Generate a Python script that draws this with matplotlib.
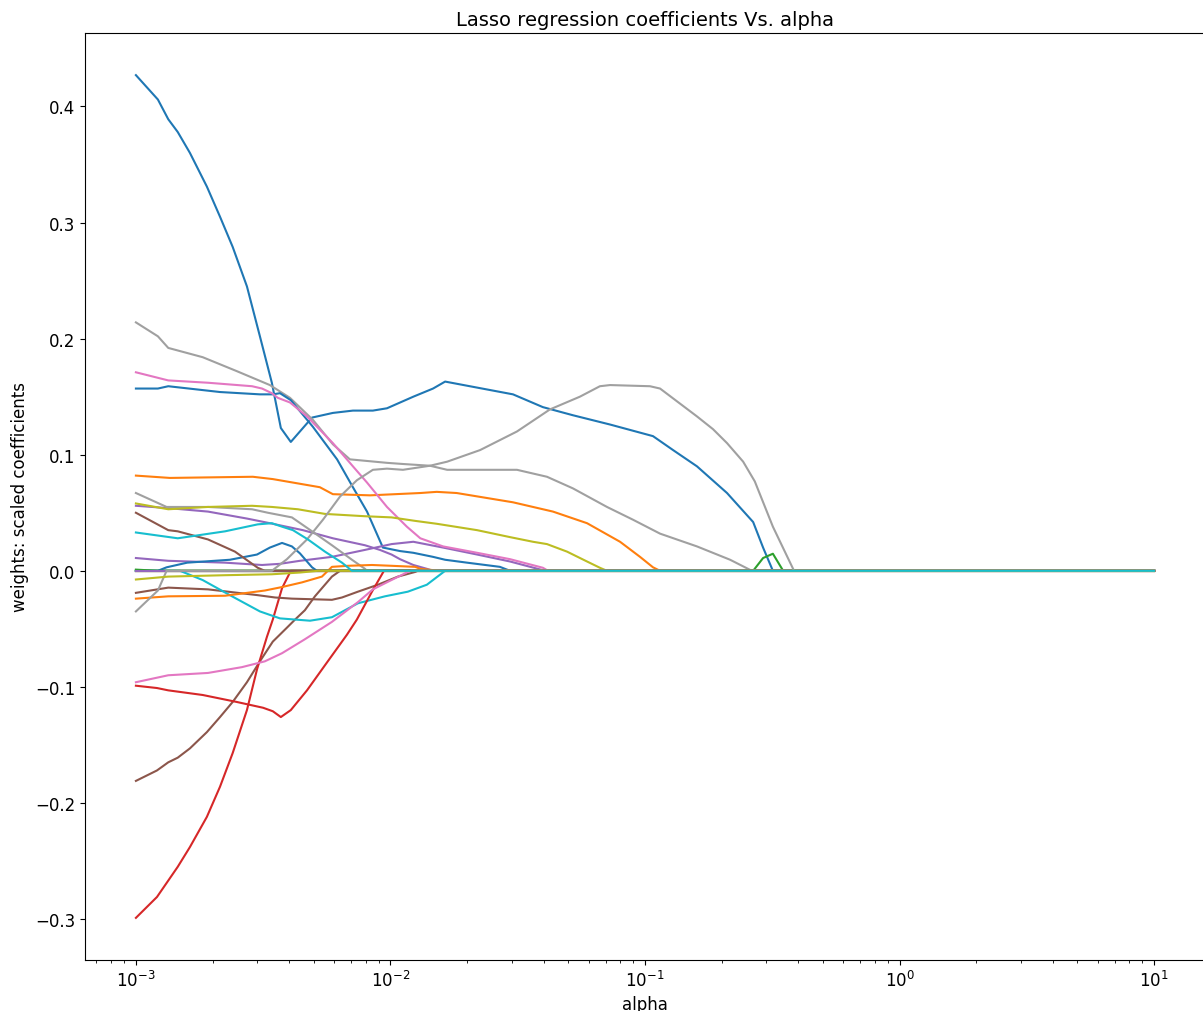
import matplotlib.pyplot as plt
from cycler import cycler

# lasso path: knots (alpha, coefficient); every path ends at 0 for large alpha
blue_a_alpha = [0.001, 0.00122, 0.00134, 0.00146, 0.00163, 0.0019, 0.00214, 0.0024, 0.00273, 0.00307, 0.00342,
                0.00371, 0.00406, 0.00492, 0.00594, 0.00712, 0.00853, 0.00969, 0.0123, 0.0147, 0.0164, 0.0205,
                0.0303, 0.0397, 0.0521, 0.0729, 0.1075, 0.1289, 0.160, 0.210, 0.266, 0.291, 0.318, 10]
blue_a_coef = [0.427, 0.406, 0.389, 0.378, 0.360, 0.331, 0.305, 0.279, 0.245, 0.202, 0.162,
               0.123, 0.111, 0.132, 0.136, 0.138, 0.138, 0.140, 0.150, 0.157, 0.163, 0.159,
               0.152, 0.141, 0.134, 0.126, 0.116, 0.104, 0.090, 0.067, 0.042, 0.020, 0.0, 0.0]

blue_b_alpha = [0.001, 0.00122, 0.00134, 0.00214, 0.00307, 0.00345, 0.00368, 0.00406, 0.00496, 0.00617, 0.00712,
                0.00809, 0.00934, 0.0109, 0.0123, 0.0147, 0.0164, 0.0200, 0.0269, 0.0295, 10]
blue_b_coef = [0.157, 0.157, 0.159, 0.154, 0.152, 0.152, 0.153, 0.147, 0.124, 0.096, 0.072,
               0.051, 0.020, 0.017, 0.0155, 0.012, 0.0095, 0.007, 0.0034, 0.0, 0.0]

blue_c_alpha = [0.001, 0.00122, 0.00132, 0.00159, 0.00234, 0.00299, 0.00336, 0.00375, 0.0041, 0.00441, 0.00492, 0.00514, 10]
blue_c_coef = [0.0, 0.0, 0.003, 0.007, 0.0095, 0.014, 0.020, 0.024, 0.021, 0.015, 0.003, 0.0, 0.0]

orange_a_alpha = [0.001, 0.00136, 0.00288, 0.00345, 0.00414, 0.00528, 0.00594, 0.00831, 0.0131, 0.0152, 0.0182,
                  0.0303, 0.0435, 0.0592, 0.0798, 0.0956, 0.1075, 0.1146, 10]
orange_a_coef = [0.082, 0.080, 0.081, 0.079, 0.076, 0.072, 0.066, 0.065, 0.067, 0.068, 0.067,
                 0.059, 0.051, 0.041, 0.025, 0.012, 0.003, 0.0, 0.0]

orange_b_alpha = [0.001, 0.00134, 0.00224, 0.00321, 0.00375, 0.00449, 0.00538, 0.00589, 0.00681, 0.00846, 0.0101,
                  0.0125, 0.0131, 0.0156, 10]
orange_b_coef = [-0.024, -0.022, -0.0215, -0.017, -0.014, -0.010, -0.005, 0.0034, 0.0043, 0.005, 0.0043,
                 0.0034, 0.0017, 0.0, 0.0]

green_bump_alpha = [0.001, 0.266, 0.291, 0.318, 0.349, 10]
green_bump_coef = [0.0, 0.0, 0.011, 0.0147, 0.0, 0.0]
green_small_alpha = [0.001, 0.00122, 10]
green_small_coef = [0.001, 0.0, 0.0]

red_a_alpha = [0.001, 0.00121, 0.00146, 0.00163, 0.0019, 0.00214, 0.0024, 0.00273, 0.00299, 0.00327, 0.00345,
               0.00375, 0.00406, 10]
red_a_coef = [-0.299, -0.281, -0.255, -0.238, -0.212, -0.186, -0.157, -0.120, -0.085, -0.057, -0.042,
              -0.015, 0.0, 0.0]

red_b_alpha = [0.001, 0.00121, 0.00134, 0.00183, 0.00249, 0.00316, 0.00345, 0.00371, 0.00406, 0.0047, 0.00563,
               0.00675, 0.00738, 0.00846, 0.00943, 10]
red_b_coef = [-0.099, -0.101, -0.103, -0.107, -0.113, -0.118, -0.121, -0.126, -0.120, -0.103, -0.079,
              -0.055, -0.042, -0.018, 0.0, 0.0]

purple_a_alpha = [0.001, 0.00134, 0.00192, 0.00273, 0.00336, 0.00453, 0.00594, 0.00794, 0.00909, 0.0101, 0.0109,
                  0.0123, 0.0139, 0.0147, 10]
purple_a_coef = [0.056, 0.054, 0.051, 0.045, 0.041, 0.035, 0.028, 0.022, 0.018, 0.014, 0.010,
                 0.005, 0.0017, 0.0, 0.0]

purple_b_alpha = [0.001, 0.00134, 0.00224, 0.00313, 0.00368, 0.00441, 0.00589, 0.00794, 0.0101, 0.0123, 0.0161,
                  0.0219, 0.0295, 0.0405, 10]
purple_b_coef = [0.011, 0.0086, 0.007, 0.005, 0.006, 0.0086, 0.012, 0.018, 0.023, 0.025, 0.020,
                 0.014, 0.008, 0.0, 0.0]

brown_a_alpha = [0.001, 0.00134, 0.00146, 0.00192, 0.00245, 0.00301, 0.00321, 10]
brown_a_coef = [0.050, 0.035, 0.034, 0.027, 0.0165, 0.0026, 0.0, 0.0]

brown_b_alpha = [0.001, 0.00134, 0.00192, 0.00301, 0.00352, 0.0041, 0.00589, 0.00645, 0.00745, 0.00893, 0.0107,
                 0.0125, 0.0128, 10]
brown_b_coef = [-0.019, -0.0145, -0.016, -0.021, -0.023, -0.024, -0.025, -0.023, -0.018, -0.012, -0.005,
                -0.001, 0.0, 0.0]

brown_c_alpha = [0.001, 0.00121, 0.00134, 0.00146, 0.00163, 0.0019, 0.00214, 0.0024, 0.00273, 0.00307, 0.00345,
                 0.00392, 0.00422, 0.00461, 0.00505, 0.00589, 0.00634, 10]
brown_c_coef = [-0.181, -0.172, -0.165, -0.161, -0.153, -0.139, -0.126, -0.113, -0.096, -0.078, -0.061,
                -0.049, -0.042, -0.034, -0.022, -0.005, 0.0, 0.0]

pink_a_alpha = [0.001, 0.00134, 0.00192, 0.00286, 0.00313, 0.00342, 0.00361, 0.00403, 0.0047, 0.00594, 0.00712,
                0.00809, 0.00969, 0.0116, 0.0131, 0.0161, 0.0219, 0.0295, 0.0397, 0.0416, 10]
pink_a_coef = [0.171, 0.164, 0.162, 0.159, 0.157, 0.153, 0.149, 0.145, 0.133, 0.110, 0.090,
               0.076, 0.055, 0.038, 0.028, 0.021, 0.0155, 0.010, 0.0026, 0.0, 0.0]

pink_b_alpha = [0.001, 0.00134, 0.00192, 0.00261, 0.00321, 0.00375, 0.00461, 0.00589, 0.00745, 0.00853, 0.00977,
                0.0117, 0.0121, 10]
pink_b_coef = [-0.096, -0.090, -0.088, -0.083, -0.078, -0.071, -0.059, -0.044, -0.027, -0.016, -0.0095,
               -0.001, 0.0, 0.0]

gray_a_alpha = [0.001, 0.00122, 0.00134, 0.00183, 0.00249, 0.00336, 0.00403, 0.00496, 0.00594, 0.00693, 0.00969,
                0.0112, 0.0143, 0.0167, 0.0314, 0.0412, 0.0521, 0.0709, 0.0897, 0.1146, 0.160, 0.216, 0.263, 10]
gray_a_coef = [0.214, 0.202, 0.192, 0.184, 0.172, 0.160, 0.149, 0.130, 0.109, 0.096, 0.093,
               0.092, 0.0905, 0.087, 0.087, 0.081, 0.071, 0.055, 0.044, 0.032, 0.021, 0.0095, 0.0, 0.0]

gray_b_alpha = [0.001, 0.00132, 0.00192, 0.00286, 0.0033, 0.0041, 0.00492, 0.00589, 0.00706, 0.00794, 0.00809, 10]
gray_b_coef = [0.067, 0.055, 0.055, 0.053, 0.050, 0.046, 0.034, 0.022, 0.0095, 0.0017, 0.0, 0.0]

gray_c_alpha = [0.001, 0.00122, 0.00132, 0.00342, 0.00392, 0.0047, 0.00543, 0.00634, 0.00738, 0.00853, 0.00969,
                0.0112, 0.0143, 0.0167, 0.0225, 0.0314, 0.0423, 0.0555, 0.0665, 0.0729, 0.1046, 0.1146, 0.160,
                0.185, 0.210, 0.243, 0.270, 0.318, 0.385, 10]
gray_c_coef = [-0.035, -0.017, 0.0, 0.0, 0.010, 0.027, 0.044, 0.064, 0.078, 0.087, 0.088,
               0.087, 0.0905, 0.094, 0.104, 0.120, 0.139, 0.150, 0.159, 0.160, 0.159, 0.157, 0.133,
               0.122, 0.110, 0.094, 0.077, 0.038, 0.0, 0.0]

olive_a_alpha = [0.001, 0.00134, 0.00192, 0.00286, 0.00342, 0.00433, 0.00553, 0.00794, 0.0101, 0.0125, 0.0152,
                 0.0219, 0.0295, 0.0363, 0.0412, 0.0494, 0.0592, 0.0665, 0.0709, 10]
olive_a_coef = [0.058, 0.053, 0.055, 0.056, 0.055, 0.053, 0.049, 0.047, 0.046, 0.043, 0.0405,
                0.035, 0.029, 0.025, 0.023, 0.0165, 0.008, 0.0026, 0.0, 0.0]

olive_b_alpha = [0.001, 0.00134, 0.00224, 0.00342, 0.00441, 0.00519, 10]
olive_b_coef = [-0.0075, -0.005, -0.0038, -0.003, -0.0015, 0.0, 0.0]

cyan_a_alpha = [0.001, 0.00146, 0.00224, 0.00301, 0.00342, 0.00375, 0.00414, 0.00474, 0.00553, 0.00645, 0.00706, 10]
cyan_a_coef = [0.033, 0.028, 0.034, 0.040, 0.041, 0.038, 0.035, 0.027, 0.0165, 0.007, 0.0, 0.0]

cyan_b_alpha = [0.001, 0.00149, 0.00183, 0.00234, 0.00307, 0.00368, 0.00483, 0.00589, 0.00745, 0.00951, 0.0117,
                0.0139, 0.0164, 10]
cyan_b_coef = [0.0, 0.0, -0.008, -0.021, -0.035, -0.041, -0.043, -0.040, -0.028, -0.022, -0.018,
               -0.012, 0.0, 0.0]

zero_alpha = [0.001, 10]
zero_coef = [0.0, 0.0]

# 30 features, drawn in order so the colour cycle gives each its colour
paths = [
    (blue_a_alpha, blue_a_coef), (zero_alpha, zero_coef), (green_bump_alpha, green_bump_coef),
    (zero_alpha, zero_coef), (purple_a_alpha, purple_a_coef), (brown_c_alpha, brown_c_coef),
    (zero_alpha, zero_coef), (gray_a_alpha, gray_a_coef), (zero_alpha, zero_coef), (zero_alpha, zero_coef),
    (blue_b_alpha, blue_b_coef), (orange_a_alpha, orange_a_coef), (zero_alpha, zero_coef),
    (red_a_alpha, red_a_coef), (purple_b_alpha, purple_b_coef), (brown_b_alpha, brown_b_coef),
    (pink_a_alpha, pink_a_coef), (gray_b_alpha, gray_b_coef), (olive_a_alpha, olive_a_coef),
    (cyan_b_alpha, cyan_b_coef),
    (blue_c_alpha, blue_c_coef), (orange_b_alpha, orange_b_coef), (green_small_alpha, green_small_coef),
    (red_b_alpha, red_b_coef), (zero_alpha, zero_coef), (brown_a_alpha, brown_a_coef),
    (pink_b_alpha, pink_b_coef), (gray_c_alpha, gray_c_coef), (olive_b_alpha, olive_b_coef),
    (cyan_a_alpha, cyan_a_coef),
]

colors = ["#1f77b4", "#ff7f0e", "#2ca02c", "#d62728", "#9467bd",
          "#8c564b", "#e377c2", "#a0a0a0", "#bcbd22", "#17becf"]
plt.rcParams["axes.prop_cycle"] = cycler(color=colors)

fig = plt.figure(figsize=(12.03, 10.12), dpi=100)
ax = fig.add_axes([85 / 1203, 1 - 961 / 1012, 1120 / 1203, 927 / 1012])

for a, c in paths:
    ax.plot(a, c)

ax.set_xscale("log")
ax.set_title("Lasso regression coefficients Vs. alpha", fontsize=14)
ax.set_xlabel("alpha", fontsize=12)
ax.set_ylabel("weights: scaled coefficients", fontsize=12)
ax.tick_params(labelsize=12)

fig.savefig("out.png", dpi=100)
